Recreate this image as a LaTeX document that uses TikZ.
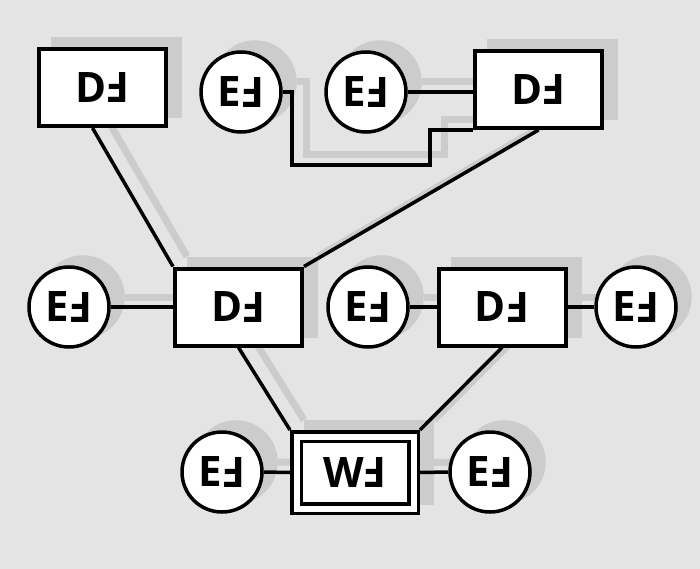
\documentclass[tikz,border=0pt]{standalone}
\usepackage{fontspec}
\setmainfont{Open Sans}
\usepackage{graphicx}
\usetikzlibrary{calc}

\definecolor{paper}{RGB}{228,228,228}
\definecolor{shadowgray}{RGB}{204,204,204}

% turned capital F used in every label
\newcommand\turnF{\rotatebox[origin=c]{180}{F}}

\pgfdeclarelayer{bg}
\pgfdeclarelayer{shadow}
\pgfsetlayers{bg,shadow,main}

\tikzset{
  lbl/.style={font=\bfseries\fontsize{42}{42}\selectfont, inner sep=0pt},
  entity/.style={lbl, draw, fill=white, line width=4pt,
                 minimum width=127pt, minimum height=77pt},
  attr/.style={lbl, circle, draw, fill=white, line width=3.5pt, minimum size=80pt},
  weak/.style={lbl, draw, fill=white, line width=3.5pt, double=white,
               double distance=6pt, minimum width=117pt, minimum height=72pt,
               outer sep=6.5pt},
  link/.style={line width=3.5pt},
  shadowlink/.style={draw=shadowgray, line width=7pt},
  castshadow/.style={transform canvas={shift={(14pt,10pt)}}},
}

% all connectors, drawn once as shadow and once in black
\newcommand\connectors[1]{%
  \draw[#1] (ef1.east) -| (k1) -| (k2) -- (de2.south west);
  \draw[#1] (ef2.east) -- (ef2 -| de2.west);
  \draw[#1] ($(de1.south)+(-10,0)$) -- (de3.north west);
  \draw[#1] (de2.south) -- (de3.north east);
  \draw[#1] (ef3.east) -- (de3.west);
  \draw[#1] (ef4.east) -- (de4.west);
  \draw[#1] (de4.east) -- (ef5.west);
  \draw[#1] (de3.south) -- (wf.north west);
  \draw[#1] (de4.south) -- (wf.north east);
  \draw[#1] (ef6.east) -- (wf.west);
  \draw[#1] (wf.east) -- (ef7.west);
}

\begin{document}
\begin{tikzpicture}[x=1pt, y=-1pt]
  \useasboundingbox (0,0) rectangle (700,569);
  \begin{pgfonlayer}{bg}
    \fill[paper] (0,0) rectangle (700,569);
  \end{pgfonlayer}

  % top row
  \node[entity] (de1) at (102.5,87.5) {D\turnF};
  \node[attr]   (ef1) at (241,92)     {E\turnF};
  \node[attr]   (ef2) at (366,92)     {E\turnF};
  \node[entity] (de2) at (538.5,89.5) {D\turnF};
  % middle row
  \node[attr]   (ef3) at (69,307)     {E\turnF};
  \node[entity] (de3) at (238.5,307)  {D\turnF};
  \node[attr]   (ef4) at (368,307)    {E\turnF};
  \node[entity] (de4) at (502,307)    {D\turnF};
  \node[attr]   (ef5) at (636,307)    {E\turnF};
  % bottom row
  \node[attr]   (ef6) at (222,472)    {E\turnF};
  \node[weak]   (wf)  at (355,472.5)  {W\turnF};
  \node[attr]   (ef7) at (490,472)    {E\turnF};

  % bends of the stepped connector
  \coordinate (k1) at (292,165);
  \coordinate (k2) at ($(de2.south west)+(-43,0)$);

  % cast shadows
  \begin{pgfonlayer}{shadow}
    \begin{scope}[castshadow]
      \foreach \n in {de1,de2,de3,de4,wf}
        \fill[shadowgray] (\n.south west) rectangle (\n.north east);
      \foreach \n in {ef1,ef2,ef3,ef4,ef5,ef6,ef7}
        \fill[shadowgray] (\n) circle[radius=41.75];
      \connectors{shadowlink}
    \end{scope}
  \end{pgfonlayer}

  \connectors{link}
\end{tikzpicture}
\end{document}
